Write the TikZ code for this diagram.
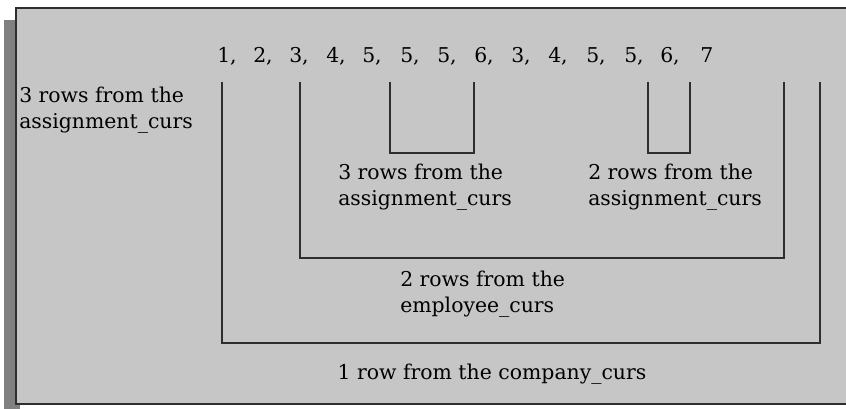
\documentclass[tikz,border=0pt]{standalone}
\usepackage{fontspec}
\setmainfont{DejaVu Serif}
\usetikzlibrary{positioning}
\definecolor{panelgray}{HTML}{C6C6C6}
\definecolor{shadowgray}{HTML}{808080}
\definecolor{inkgray}{HTML}{2E2E2E}
\tikzset{bracket/.style={line width=1.5pt, draw=inkgray}}
\tikzset{lbl/.style={align=left, inner sep=0pt, font=\fontsize{15.3}{20}\selectfont, text=black}}
\begin{document}
\begin{tikzpicture}[x=0.75pt, y=-0.75pt]
    \useasboundingbox (0,0) rectangle (846,409);
    % panel and its shadow
    \fill[shadowgray] (4,20) rectangle (20,409);
    \draw[fill=panelgray, draw=inkgray, line width=2pt] (16,8) rectangle (852,404);

    % the fetched rows
    \foreach \x/\t [count=\i] in {217/{1,}, 253/{2,}, 289/{3,}, 326/{4,}, 362/{5,}, 400/{5,},
        437/{5,}, 474/{6,}, 511/{3,}, 548/{4,}, 586/{5,}, 624/{5,}, 660/{6,}, 700/{7}}
        \node[lbl, anchor=base west] (n\i) at (\x,63) {\t};

    % labels
    \node[lbl, anchor=west] (assignL) at (19,110) {3 rows from the\\assignment\_curs};
    \node[lbl, anchor=west] (assignA) at (338,187) {3 rows from the\\assignment\_curs};
    \node[lbl, anchor=west] (assignB) at (588,187) {2 rows from the\\assignment\_curs};
    \node[lbl, anchor=west] (employee) at (400,294) {2 rows from the\\employee\_curs};
    \node[lbl] (company) at (492,374) {1 row from the company\_curs};

    % brackets
    \draw[bracket] (222,82) |- (820,343) -- (820,82);
    \draw[bracket] (300,82) |- (784,258) -- (784,82);
    \draw[bracket] (390,82) |- (474,153) -- (474,82);
    \draw[bracket] (648,82) |- (690,153) -- (690,82);
\end{tikzpicture}
\end{document}
